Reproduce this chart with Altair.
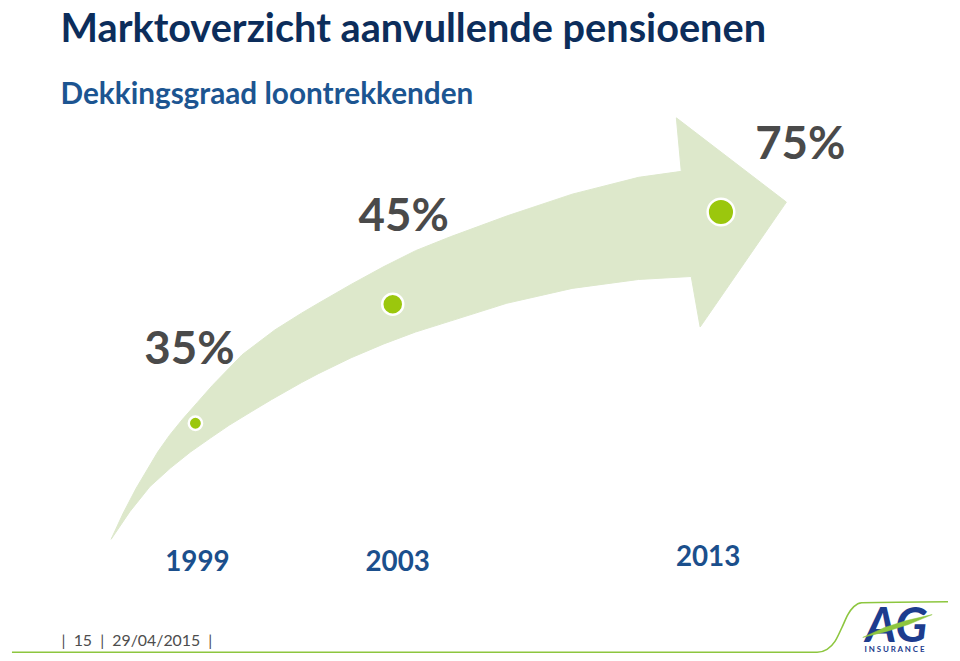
import altair as alt
import pandas as pd

# ---------------- data ----------------
TITLE = "Marktoverzicht aanvullende pensioenen"
SUBTITLE = "Dekkingsgraad loontrekkenden"
FOOTER = "|\u00a0\u00a015\u00a0\u00a0|\u00a0\u00a029/04/2015\u00a0\u00a0|"

years = ["1999", "2003", "2013"]
coverage = [35, 45, 75]          # dekkingsgraad in %

# slide layout (positions on the 960 x 661 slide)
point_x = [193, 392, 723]
point_y = [421, 301, 208]
pct_label_x = [187, 403, 803]
pct_label_y = [361, 227, 155]
year_label_x = [195, 397, 710]
year_label_y = [570, 570, 565]

# curved arrow outline: upper edge, head, lower edge (back to the tail)
arrow_x = [108, 120, 133, 155, 167, 180, 195, 210, 240, 273, 300, 317, 350, 383, 415, 450, 507, 573, 640, 683,
           678, 789, 702,
           693, 640, 573, 507, 450, 415, 383, 350, 317, 300, 270, 250, 227, 208, 188, 168, 147, 127, 108]
arrow_y = [538, 512, 487, 450, 433, 417, 400, 383, 352, 327, 310, 300, 281, 263, 247, 233, 212, 190, 173, 167,
           113, 198, 324,
           273, 276, 285, 300, 318, 329, 341, 355, 371, 380, 397, 409, 423, 436, 450, 466, 485, 510, 538]

# footer line and logo
footer_line_x = [8, 820, 830, 838, 845, 851, 857, 865, 952]
footer_line_y = [652, 652, 649, 641, 627, 614, 606, 602, 601]
swoosh_x = [866, 888, 910, 936, 912, 890, 866]
swoosh_y = [637, 627, 620, 614, 624, 631, 637]

# ---------------- chart ----------------
W, H = 944, 645
xs = alt.Scale(domain=[8, 952], nice=False, zero=False)
ys = alt.Scale(domain=[8, 653], reverse=True, nice=False, zero=False)


def xy():
    return dict(x=alt.X("x:Q", scale=xs, axis=None), y=alt.Y("y:Q", scale=ys, axis=None))


arrow_df = pd.DataFrame({"x": arrow_x, "y": arrow_y, "i": range(len(arrow_x))})
arrow = alt.Chart(arrow_df).mark_line(
    fill="#dde8cb", stroke="#dde8cb", strokeWidth=1, interpolate="linear-closed"
).encode(**xy(), order="i:Q")

pts_df = pd.DataFrame({"year": years, "value": coverage, "x": point_x, "y": point_y})
points = alt.Chart(pts_df).mark_circle(
    color="#9bc70d", opacity=1, stroke="white", strokeWidth=2.5
).encode(
    **xy(),
    size=alt.Size("year:N", scale=alt.Scale(domain=years, range=[180, 720, 1400]), legend=None),
)

pct_df = pd.DataFrame({"label": [f"{v}%" for v in coverage], "x": pct_label_x, "y": pct_label_y})
pct = alt.Chart(pct_df).mark_text(
    font="Lato", fontWeight="bold", fontSize=46, color="#4a4a4a", baseline="alphabetic", align="center"
).encode(**xy(), text="label:N")

yr_df = pd.DataFrame({"label": years, "x": year_label_x, "y": year_label_y})
yrs = alt.Chart(yr_df).mark_text(
    font="Lato", fontWeight="bold", fontSize=28, color="#1b4f8c", baseline="alphabetic", align="center"
).encode(**xy(), text="label:N")

title_df = pd.DataFrame({"label": [TITLE], "x": [57], "y": [37]})
title = alt.Chart(title_df).mark_text(
    font="Lato", fontWeight="bold", fontSize=40, color="#0c2d5b", baseline="alphabetic", align="left"
).encode(**xy(), text="label:N")

sub_df = pd.DataFrame({"label": [SUBTITLE], "x": [57], "y": [99]})
sub = alt.Chart(sub_df).mark_text(
    font="Lato", fontWeight="bold", fontSize=30, color="#1c5591", baseline="alphabetic", align="left"
).encode(**xy(), text="label:N")

foot_df = pd.DataFrame({"label": [FOOTER], "x": [58], "y": [646]})
foot = alt.Chart(foot_df).mark_text(
    font="Lato", fontSize=16, color="#4d4d4d", baseline="alphabetic", align="left"
).encode(**xy(), text="label:N")

fl_df = pd.DataFrame({"x": footer_line_x, "y": footer_line_y, "i": range(len(footer_line_x))})
fline = alt.Chart(fl_df).mark_line(
    color="#8dc63f", strokeWidth=1.6, interpolate="monotone"
).encode(**xy(), order="i:Q")

ag_df = pd.DataFrame({"label": ["AG"], "x": [900], "y": [642]})
ag = alt.Chart(ag_df).mark_text(
    font="Lato", fontWeight="bold", fontStyle="italic", fontSize=48, color="#1d3c8e",
    baseline="alphabetic", align="center"
).encode(**xy(), text="label:N")

sw_df = pd.DataFrame({"x": swoosh_x, "y": swoosh_y, "i": range(len(swoosh_x))})
swoosh = alt.Chart(sw_df).mark_line(
    fill="#8dc63f", stroke="#8dc63f", strokeWidth=0.5, interpolate="linear-closed"
).encode(**xy(), order="i:Q")

ins_df = pd.DataFrame({"label": ["I N S U R A N C E"], "x": [898], "y": [652]})
ins = alt.Chart(ins_df).mark_text(
    font="Lato", fontWeight="bold", fontSize=8, color="#1d3c8e", baseline="alphabetic", align="center"
).encode(**xy(), text="label:N")

chart = alt.layer(
    arrow, points, pct, yrs, title, sub, fline, foot, ag, swoosh, ins
).properties(
    width=W, height=H, padding=0, background="white"
).configure_view(stroke=None)

chart.save("out.html", embed_options={"renderer": "svg", "actions": False})
